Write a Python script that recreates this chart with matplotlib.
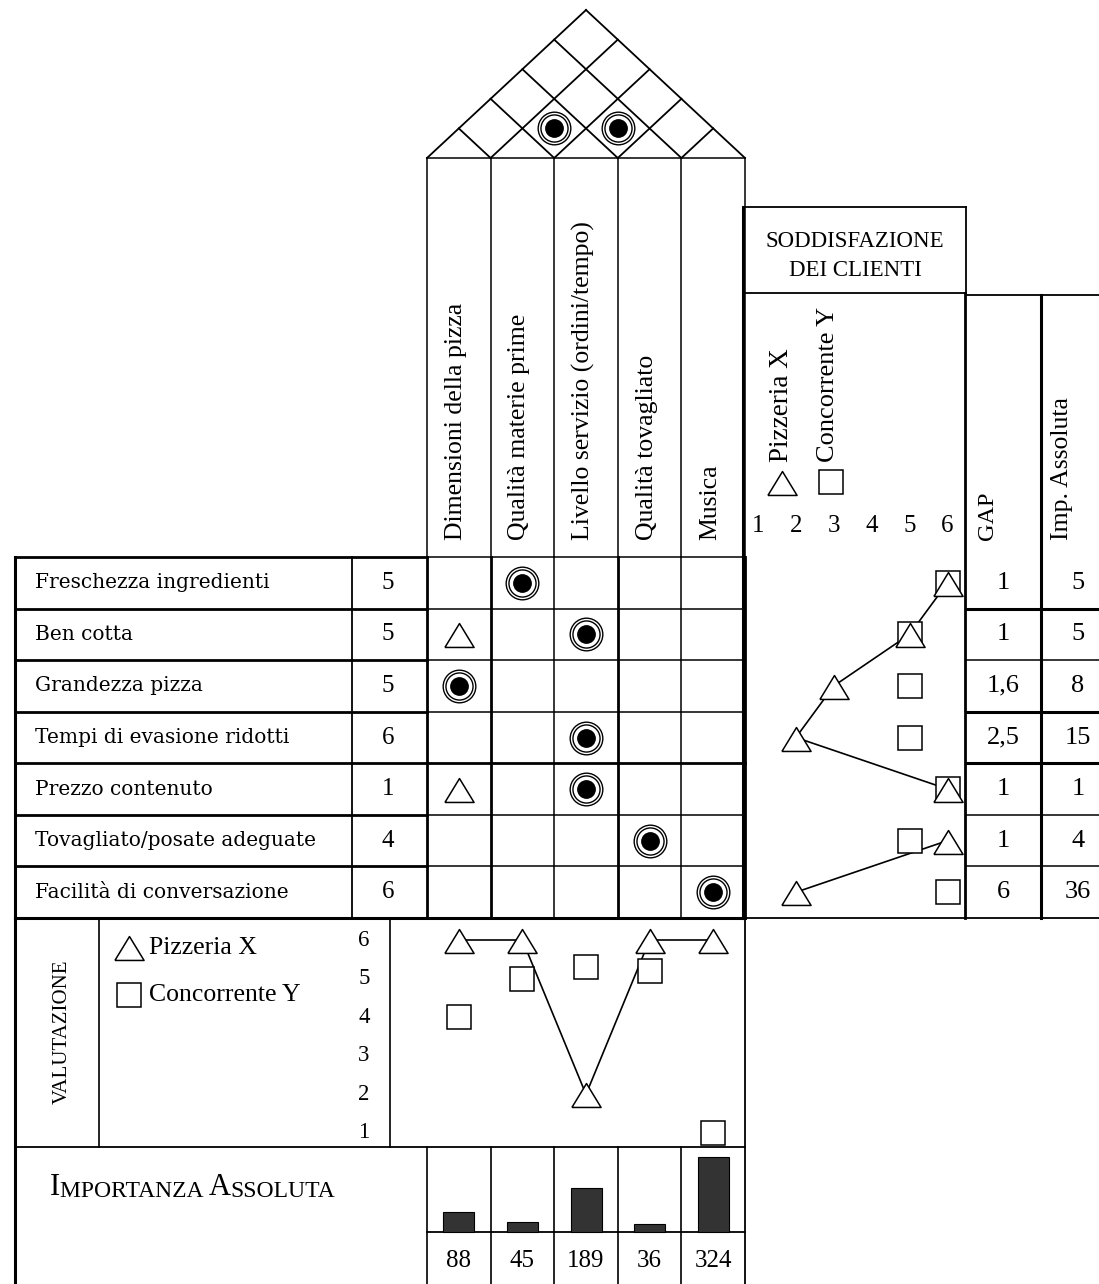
import numpy as np
import matplotlib.pyplot as plt

requirements = ["Freschezza ingredienti", "Ben cotta", "Grandezza pizza",
                "Tempi di evasione ridotti", "Prezzo contenuto",
                "Tovagliato/posate adeguate", "Facilità di conversazione"]
weights = [5, 5, 5, 6, 1, 4, 6]
characteristics = ["Dimensioni della pizza", "Qualità materie prime",
                   "Livello servizio (ordini/tempo)", "Qualità tovagliato", "Musica"]
# S = strong relation, W = weak relation
relations = [["", "S", "", "", ""],
             ["W", "", "S", "", ""],
             ["S", "", "", "", ""],
             ["", "", "S", "", ""],
             ["W", "", "S", "", ""],
             ["", "", "", "S", ""],
             ["", "", "", "", "S"]]
roof_pairs = [(1, 2), (2, 3)]
sat_pizzeria = [6, 5, 3, 2, 6, 6, 2]
sat_concorrente = [6, 5, 5, 5, 6, 5, 6]
sat_links = [[0, 1, 2, 3, 4], [5, 6]]
gap = ["1", "1", "1,6", "2,5", "1", "1", "6"]
imp_assoluta = [5, 5, 8, 15, 1, 4, 36]
val_pizzeria = [6, 6, 2, 6, 6]
val_concorrente = [4, 5, 5.3, 5.2, 1]
importanza = [88, 45, 189, 36, 324]

# --- layout (pixel units, y downwards) ---
W, H = 1099, 1284
cols = np.linspace(427, 745, 6)
ccen = (cols[:-1] + cols[1:]) / 2
rows = np.linspace(557, 918, 8)
rcen = (rows[:-1] + rows[1:]) / 2
ROOF_BASE = 158
slope = (ROOF_BASE - 10) / ((cols[-1] - cols[0]) / 2)


def sat_x(v):
    return 758 + (np.asarray(v) - 1) * 37.9


def val_y(v):
    return 1133 - (np.asarray(v) - 1) * 38.6


SERIF = "Liberation Serif"
TRI = [(-1, -0.82), (1, -0.82), (0, 0.82), (-1, -0.82)]

fig = plt.figure(figsize=(W / 100, H / 100), dpi=100)
ax = fig.add_axes([0, 0, 1, 1])
ax.set_xlim(0, W)
ax.set_ylim(H, 0)
ax.axis("off")


def seg(x0, y0, x1, y1, lw=1.1):
    ax.plot([x0, x1], [y0, y1], color="black", lw=lw, solid_capstyle="projecting", zorder=2)


# roof
seg(cols[0], ROOF_BASE, cols[-1], ROOF_BASE)
for xk in cols:
    xr = (xk + cols[-1]) / 2
    seg(xk, ROOF_BASE, xr, ROOF_BASE - (xr - xk) * slope, 1.3)
    xl = (xk + cols[0]) / 2
    seg(xk, ROOF_BASE, xl, ROOF_BASE - (xk - xl) * slope, 1.3)


def strong(x, y):
    ax.plot(x, y, "o", ms=23.5, mfc="white", mec="black", mew=1.0, zorder=4)
    ax.plot(x, y, "o", ms=19.5, mfc="white", mec="black", mew=1.0, zorder=4)
    ax.plot(x, y, "o", ms=12.5, mfc="black", mec="black", zorder=5)


for i, j in roof_pairs:
    xm = (ccen[i] + ccen[j]) / 2
    strong(xm, ROOF_BASE - (ccen[j] - ccen[i]) / 2 * slope)

# header columns
for k, xk in enumerate(cols):
    seg(xk, ROOF_BASE, xk, rows[0], 1.1)
    seg(xk, rows[0], xk, rows[-1], 2.0 if k in (0, 1, 3, 5) else 1.1)
for c, name in enumerate(characteristics):
    ax.text(ccen[c] - 3, 540, name, rotation=90, ha="center", va="bottom",
            family=SERIF, fontsize=18.5)

# matrix rows
for r, y in enumerate(rows):
    seg(cols[0], y, cols[-1], y, 2.0 if r in (4, 7) else 1.1)
for r, rel in enumerate(relations):
    for c, kind in enumerate(rel):
        if kind == "S":
            strong(ccen[c], rcen[r])
        elif kind == "W":
            ax.plot(ccen[c], rcen[r] + 1, marker=TRI, ms=21, mfc="white", mec="black",
                    mew=1.1, zorder=4)

# left table of requirements
for y in rows:
    seg(15, y, cols[0], y, 2.0)
seg(15, rows[0], 15, rows[-1], 2.2)
seg(352, rows[0], 352, rows[-1], 1.3)
for r, name in enumerate(requirements):
    ax.text(35, rcen[r], name, ha="left", va="center", family="DejaVu Serif", fontsize=14.5)
    ax.text(388, rcen[r], str(weights[r]), ha="center", va="center", family=SERIF, fontsize=18)

# customer satisfaction
seg(743, 207, 966, 207, 1.3)
seg(743, 207, 743, rows[-1], 2.2)
seg(966, 207, 966, 293, 1.3)
seg(743, 293, 966, 293, 1.3)
seg(965, 293, 965, rows[-1], 2.0)
seg(743, rows[-1], 966, rows[-1], 1.3)
ax.text(855, 256, "SODDISFAZIONE\nDEI CLIENTI", ha="center", va="center",
        family=SERIF, fontsize=16.5, linespacing=1.55)
for v in range(1, 7):
    ax.text(sat_x(v), 526, str(v), ha="center", va="center", family=SERIF, fontsize=18)
ax.plot(782, 483, marker=TRI, ms=21, mfc="white", mec="black", mew=1.1)
ax.plot(831, 482, marker="s", ms=17.5, mfc="white", mec="black", mew=1.1)
ax.text(781, 462, "Pizzeria X", rotation=90, ha="center", va="bottom", family=SERIF, fontsize=19.5)
ax.text(828, 462, "Concorrente Y", rotation=90, ha="center", va="bottom", family=SERIF, fontsize=19)

for link in sat_links:
    ax.plot(sat_x([sat_pizzeria[i] for i in link]), rcen[link], color="black", lw=1.2, zorder=3)
ax.plot(sat_x(sat_concorrente), rcen, "s", ms=17.5, mfc="white", mec="black", mew=1.1,
        ls="none", zorder=4)
ax.plot(sat_x(sat_pizzeria), rcen + 1, marker=TRI, ms=21, mfc="white", mec="black", mew=1.1,
        ls="none", zorder=5)

# GAP / importanza assoluta columns
seg(966, 295, W, 295, 1.3)
seg(1041, 295, 1041, rows[-1], 2.2)
for r, y in enumerate(rows[1:-1], start=1):
    seg(966, y, W, y, 2.2 if r in (1, 3, 4) else 1.1)
seg(966, rows[-1], W, rows[-1], 1.3)
ax.text(987, 540, "GAP", rotation=90, ha="center", va="bottom", family=SERIF, fontsize=17.5)
ax.text(1062, 540, "Imp. Assoluta", rotation=90, ha="center", va="bottom", family=SERIF, fontsize=18.5)
for r in range(len(gap)):
    ax.text(1003, rcen[r], gap[r], ha="center", va="center", family=SERIF, fontsize=19)
    ax.text(1078, rcen[r], str(imp_assoluta[r]), ha="center", va="center", family=SERIF, fontsize=19)

# technical evaluation
seg(15, rows[-1], cols[-1], rows[-1], 2.2)
seg(15, rows[-1], 15, H, 2.2)
seg(99, rows[-1], 99, 1147, 1.2)
seg(390, rows[-1], 390, 1147, 1.2)
seg(cols[-1], rows[-1], cols[-1], H, 1.3)
seg(15, 1147, cols[-1], 1147, 1.3)
ax.text(62, 1032, "VALUTAZIONE", rotation=90, ha="center", va="center", family=SERIF, fontsize=15)
ax.plot(129, 948, marker=TRI, ms=21, mfc="white", mec="black", mew=1.1)
ax.text(149, 948, "Pizzeria X", ha="left", va="center", family=SERIF, fontsize=18.5)
ax.plot(129, 995, marker="s", ms=17.5, mfc="white", mec="black", mew=1.1)
ax.text(149, 995, "Concorrente Y", ha="left", va="center", family=SERIF, fontsize=18.5)
for v in range(1, 7):
    ax.text(364, val_y(v), str(v), ha="center", va="center", family=SERIF, fontsize=16.5)
ax.plot(ccen, val_y(val_pizzeria), color="black", lw=1.2, zorder=3)
ax.plot(ccen, val_y(val_concorrente), "s", ms=17.5, mfc="white", mec="black", mew=1.1, ls="none", zorder=4)
ax.plot(ccen, val_y(val_pizzeria) + 1, marker=TRI, ms=21, mfc="white", mec="black", mew=1.1,
        ls="none", zorder=5)

# importanza assoluta bars
BASE = 1232
for xk in cols[:-1]:
    seg(xk, 1147, xk, H, 1.2)
seg(cols[0], BASE, cols[-1], BASE, 1.3)
heights = np.array(importanza) / max(importanza) * 75
ax.bar(ccen, -heights, bottom=BASE, width=31, color="#333333", edgecolor="black", lw=0.8, zorder=3)
for c, v in enumerate(importanza):
    ax.text(ccen[c], 1261, str(v), ha="center", va="center", family=SERIF, fontsize=18)

t = ax.text(50, 1202, "I", ha="left", va="bottom", family=SERIF, fontsize=22)
for piece, size in [("MPORTANZA ", 17), ("A", 22), ("SSOLUTA", 17)]:
    t = ax.annotate(piece, xy=(1, 0), xycoords=t, ha="left", va="bottom",
                    family=SERIF, fontsize=size)

fig.savefig("out.png", dpi=100)
